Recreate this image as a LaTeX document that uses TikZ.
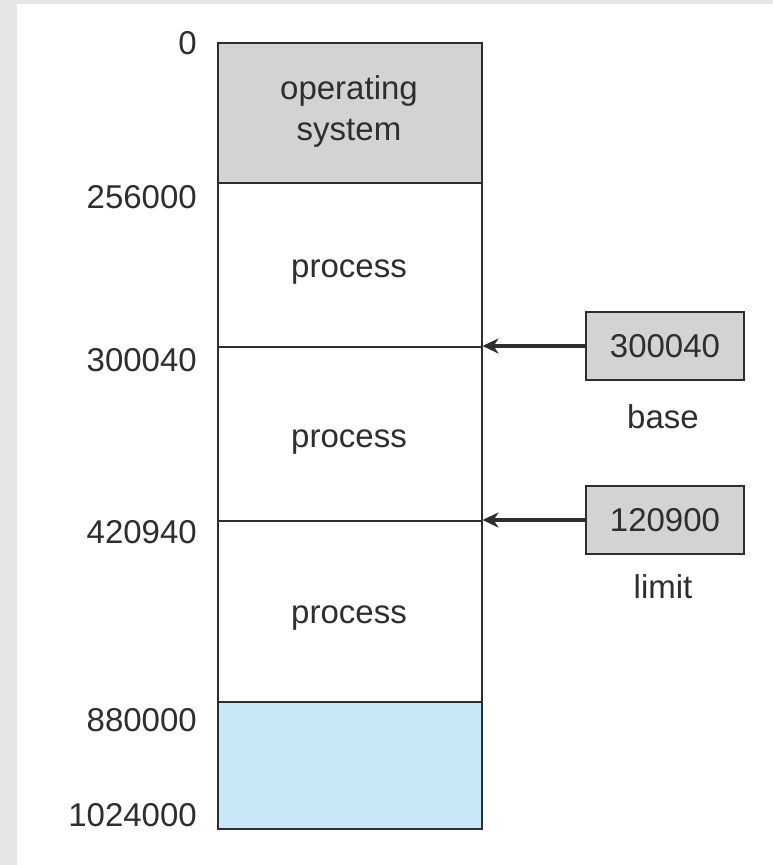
\documentclass[tikz,border=0pt]{standalone}
\usepackage{fontspec}
\setmainfont{Liberation Sans}
\usetikzlibrary{arrows.meta}
\definecolor{txt}{HTML}{2E2E30}
\definecolor{osgray}{HTML}{D2D3D5}
\definecolor{memblue}{HTML}{C6E8F7}
\definecolor{bggray}{HTML}{E6E6E6}
\tikzset{
  seg/.style={draw=txt, line width=1.5pt, anchor=north west, inner sep=0pt,
    minimum width=264pt},
  seglabel/.style={anchor=base, inner sep=0pt, text=txt, align=center,
    font=\fontsize{33}{41}\selectfont},
  addr/.style={anchor=east, inner sep=0pt, text=txt, font=\fontsize{33}{37}\selectfont},
  reg/.style={draw=txt, line width=1.5pt, fill=osgray, minimum width=158pt, minimum height=68pt,
    inner sep=0pt, text=txt, font=\fontsize{33}{37}\selectfont},
  reglabel/.style={inner sep=0pt, text=txt, font=\fontsize{33}{37}\selectfont},
  arr/.style={draw=txt, line width=3.5pt, -{Stealth[length=16pt,width=15pt,inset=5pt]}}
}
\begin{document}
\begin{tikzpicture}[x=1pt,y=-1pt]
\useasboundingbox (0,0) rectangle (773,865);
\fill[bggray] (0,0) rectangle (773,865);
\fill[white] (17,4) rectangle (773,865);
% memory segments
\node[seg, fill=osgray, minimum height=140pt] (os) at (217,42) {};
\node[seg, fill=white, minimum height=164pt] (p1) at (217,182) {};
\node[seg, fill=white, minimum height=174pt] (p2) at (217,346) {};
\node[seg, fill=white, minimum height=181pt] (p3) at (217,520) {};
\node[seg, fill=memblue, minimum height=127pt] (free) at (217,701) {};
\node[seglabel] (ost) at (349,140) {operating\\system};
\node[seglabel] (p1t) at (349,277) {process};
\node[seglabel] (p2t) at (349,447) {process};
\node[seglabel] (p3t) at (349,623) {process};
% addresses
\node[addr] (a0) at (197,43) {0};
\node[addr] (a1) at (197,197) {256000};
\node[addr] (a2) at (197,360) {300040};
\node[addr] (a3) at (197,532) {420940};
\node[addr] (a4) at (197,720) {880000};
\node[addr] (a5) at (197,815) {1024000};
% registers
\node[reg] (base) at (665,346) {300040};
\node[reglabel] (basel) at (663,417) {base};
\node[reg] (limit) at (665,520) {120900};
\node[reglabel] (limitl) at (663,587) {limit};
\draw[arr] (base.west) -- (p2.north east);
\draw[arr] (limit.west) -- (p3.north east);
\end{tikzpicture}
\end{document}
